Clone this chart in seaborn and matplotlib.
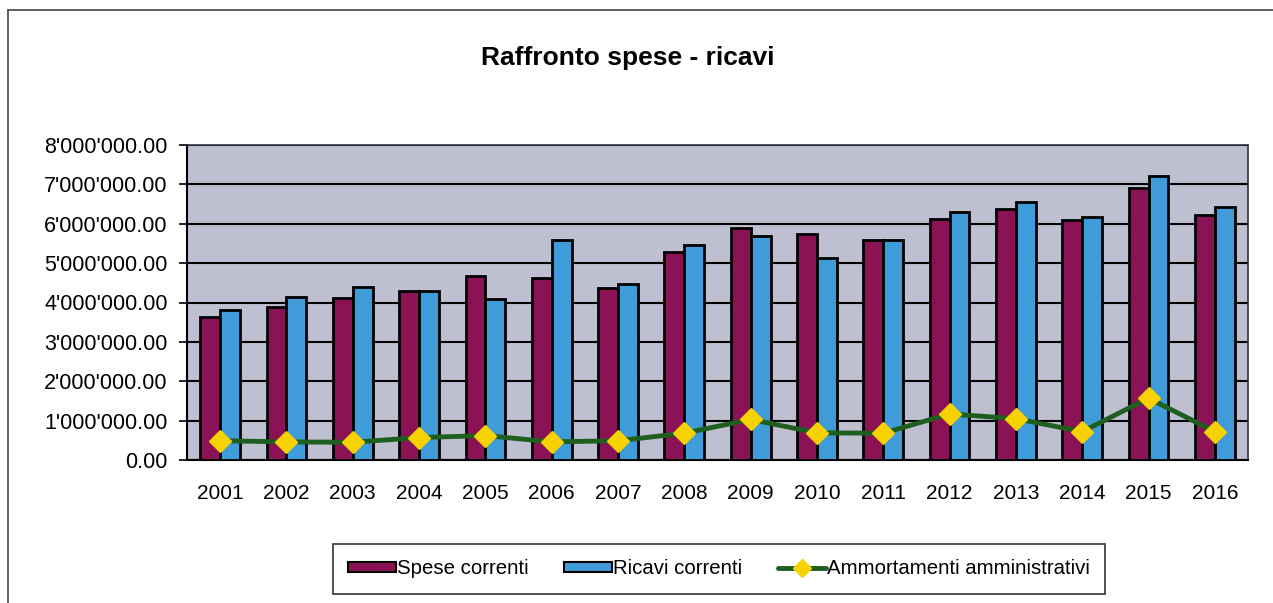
#!/usr/bin/env python3
"""Raffronto spese - ricavi: bar chart with amortisation line."""

import matplotlib
matplotlib.use("Agg")
import matplotlib.pyplot as plt
from matplotlib.lines import Line2D
from matplotlib.patches import Patch
from matplotlib.ticker import FuncFormatter, MultipleLocator
import numpy as np
import pandas as pd
import seaborn as sns


YEARS = [str(y) for y in range(2001, 2017)]
SPESE = [3.62, 3.88, 4.12, 4.30, 4.68, 4.61, 4.37, 5.27, 5.90, 5.73,
         5.58, 6.12, 6.38, 6.10, 6.90, 6.22]
RICAVI = [3.81, 4.13, 4.40, 4.29, 4.08, 5.60, 4.47, 5.47, 5.69, 5.12,
          5.60, 6.30, 6.55, 6.18, 7.22, 6.42]
AMMORT = [0.49, 0.46, 0.45, 0.57, 0.62, 0.46, 0.49, 0.68, 1.03, 0.69,
          0.68, 1.17, 1.05, 0.72, 1.57, 0.72]

SERIES = ["Spese correnti", "Ricavi correnti"]
LINE_LABEL = "Ammortamenti amministrativi"
COLORS = {"Spese correnti": "#8c1256", "Ricavi correnti": "#409cd9"}
LINE_COLOR = "#1e5e1e"
MARKER_COLOR = "#f5d200"


def _long_frame() -> pd.DataFrame:
    rows = []
    for name, vals in zip(SERIES, [SPESE, RICAVI]):
        for yr, v in zip(YEARS, vals):
            rows.append({"anno": yr, "serie": name, "valore": v * 1_000_000})
    return pd.DataFrame(rows)


def _fmt(v, _pos):
    return f"{v:,.2f}".replace(",", "'")


def main() -> None:
    sns.set_theme(style="white")
    plt.rcParams["font.family"] = ["Liberation Sans", "DejaVu Sans"]
    plt.rcParams["text.color"] = "black"

    fig = plt.figure(figsize=(12.73, 6.03), dpi=100)
    ax = fig.add_axes([187 / 1273, 1 - 460 / 603, (1248 - 187) / 1273, (460 - 145) / 603])
    ax.set_facecolor("#bfbfd2")

    df = _long_frame()
    sns.barplot(
        data=df, x="anno", y="valore", hue="serie", order=YEARS, hue_order=SERIES,
        palette=COLORS, width=0.6, gap=0, edgecolor="black", linewidth=2,
        saturation=1, legend=False, ax=ax, zorder=3,
    )

    xpos = np.arange(len(YEARS))
    amm = np.array(AMMORT) * 1_000_000
    ax.plot(xpos, amm, color=LINE_COLOR, linewidth=3.5, marker="D", markersize=11,
            markerfacecolor=MARKER_COLOR, markeredgecolor=MARKER_COLOR, zorder=5)

    ax.set_ylim(0, 8_000_000)
    ax.set_xlim(-0.5, len(YEARS) - 0.5)
    ax.yaxis.set_major_locator(MultipleLocator(1_000_000))
    ax.yaxis.set_major_formatter(FuncFormatter(_fmt))
    ax.grid(axis="y", color="black", linewidth=1.5, zorder=0)
    ax.set_axisbelow(True)
    ax.set_xlabel("")
    ax.set_ylabel("")

    ax.set_xticks(xpos)
    ax.set_xticklabels(YEARS)
    ax.set_xticks(np.arange(-0.5, len(YEARS)), minor=True)
    ax.tick_params(axis="x", which="major", length=0, pad=17, labelsize=15,
                   labelcolor="black")
    ax.tick_params(axis="x", which="minor", length=8, width=1.2, direction="out", color="black")
    ax.tick_params(axis="y", which="major", length=6, width=1.2, direction="out", pad=8,
                   labelsize=15.5, color="black", labelcolor="black", left=True)

    for side in ["left", "bottom"]:
        ax.spines[side].set_color("black")
        ax.spines[side].set_linewidth(1.5)
    for side in ["top", "right"]:
        ax.spines[side].set_color("#333344")
        ax.spines[side].set_linewidth(1.2)

    fig.text(628 / 1273, 1 - 58 / 603, "Raffronto spese - ricavi", ha="center", va="center",
             fontsize=19, fontweight="bold", color="black")

    handles = [
        Patch(facecolor=COLORS["Spese correnti"], edgecolor="black", linewidth=1.5),
        Patch(facecolor=COLORS["Ricavi correnti"], edgecolor="black", linewidth=1.5),
        Line2D([0], [0], color=LINE_COLOR, linewidth=3.5, marker="D", markersize=9,
               markerfacecolor=MARKER_COLOR, markeredgecolor=MARKER_COLOR),
    ]
    leg = fig.legend(
        handles, SERIES + [LINE_LABEL], loc="center", ncol=3,
        bbox_to_anchor=(719 / 1273, 1 - 569 / 603), fontsize=14.7, frameon=True,
        fancybox=False, edgecolor="black", handlelength=2.35, handleheight=0.4,
        handletextpad=0.05, columnspacing=1.75, borderpad=0.75,
    )
    leg.get_frame().set_linewidth(1.2)
    for t in leg.get_texts():
        t.set_color("black")

    fig.add_artist(Line2D([8 / 1273, 8 / 1273], [0, 1 - 10 / 603], transform=fig.transFigure,
                          color="#444444", linewidth=1.2))
    fig.add_artist(Line2D([8 / 1273, 1], [1 - 10 / 603, 1 - 10 / 603], transform=fig.transFigure,
                          color="#444444", linewidth=1.2))

    fig.savefig("out.png", dpi=100)
    plt.close(fig)


if __name__ == "__main__":
    main()
